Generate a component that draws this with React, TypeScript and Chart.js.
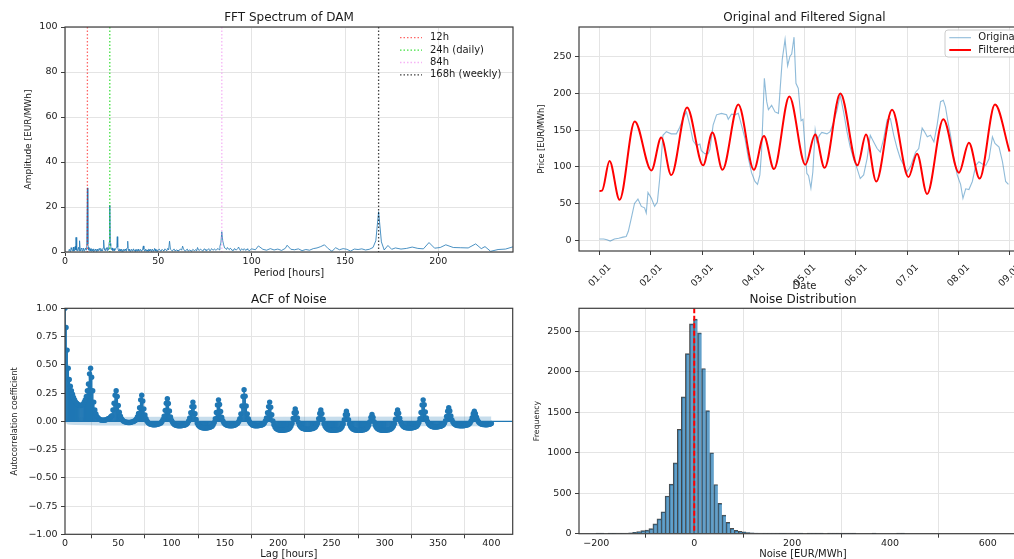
import React, { useEffect, useRef } from "react";
import { Chart, registerables } from "chart.js";

Chart.register(...registerables);

const FONT = '"DejaVu Sans", "Liberation Sans", sans-serif';
const C0 = "#1f77b4";
const SPINE = "#3d3d3d";
const GRID = "#e4e4e4";
const TXT = "#1a1a1a";

// ---------------- FFT spectrum (period [h], amplitude) ----------------
const fftPoints: [number, number][] = [
  [2, 0.3], [2.5, 0.8], [3, 0.4], [3.5, 1.5], [4, 0.5], [4.5, 2.2], [5, 0.6], [5.5, 2.5], [5.9, 6.5], [6.4, 0.8],
  [7, 1.6], [7.5, 0.5], [7.9, 5.0], [8.4, 0.6], [9, 1.4], [9.5, 0.4], [10, 1.2], [10.5, 0.5], [11, 1.8], [11.5, 2.5],
  [12, 28.5], [12.5, 2.2], [13, 0.6], [13.5, 1.3], [14, 0.4], [14.5, 1.1], [15, 0.3], [15.5, 0.9], [16, 0.4], [16.5, 1.0],
  [17, 0.3], [17.5, 0.8], [18, 0.4], [18.5, 1.2], [19, 0.5], [19.5, 1.0], [20, 0.6], [20.4, 1.8], [20.8, 5.3], [21.3, 1.0],
  [22, 1.6], [22.5, 0.6], [23, 2.0], [23.5, 3.0], [24, 20.8], [24.5, 2.8], [25, 1.2], [25.5, 0.7], [26, 1.4], [26.5, 0.5],
  [27, 1.2], [27.5, 2.0], [28, 6.8], [28.5, 1.0], [29, 0.5], [29.5, 1.1], [30, 0.4], [30.5, 0.9], [31, 0.3], [31.5, 1.2],
  [32, 0.5], [32.5, 0.8], [33, 1.5], [33.6, 4.8], [34.1, 0.7], [34.5, 1.0], [35, 0.3], [35.5, 0.9], [36, 0.4], [36.5, 1.1],
  [37, 0.5], [37.5, 0.8], [38, 0.3], [38.5, 1.2], [39, 0.4], [39.5, 0.7], [40, 0.5], [40.5, 1.0], [41, 0.4], [41.5, 1.3],
  [42, 2.7], [42.5, 0.6], [43, 1.0], [43.5, 0.4], [44, 0.9], [44.5, 0.3], [45, 1.1], [45.5, 0.5], [46, 0.8], [46.5, 0.3],
  [47, 1.0], [47.5, 0.4], [48, 1.6], [48.5, 0.5], [49, 0.9], [49.5, 0.3], [50, 1.0],
  [51, 0.6], [52, 1.2], [53, 0.5], [54, 1.0], [55, 1.6], [56, 4.8], [57, 0.8], [58, 1.1], [59, 0.4], [60, 0.9],
  [61, 0.5], [62, 1.3], [63, 2.6], [64, 0.6], [65, 1.0], [66, 0.4], [67, 0.9], [68, 0.5], [69, 0.8], [70, 1.1],
  [71, 2.0], [72, 0.7], [73, 1.0], [74, 0.5], [75, 1.2], [76, 0.6], [77, 1.5], [78, 0.7], [79, 1.1], [80, 1.4],
  [81, 0.8], [82, 1.6], [83, 2.6], [84, 9.0], [85, 3.2], [86, 1.6], [87, 2.0], [88, 1.0], [89, 1.4], [90, 0.8],
  [91, 1.5], [92, 1.0], [93, 2.2], [94, 0.6], [95, 1.2], [96, 1.5], [97, 0.7], [98, 1.1], [99, 0.6], [100, 1.4],
  [102, 1.0], [103.6, 2.7], [106, 1.2], [108, 0.8], [110, 1.5], [112, 0.9], [114, 1.3], [116, 0.7], [118, 1.6], [119, 3.0],
  [121, 1.2], [123, 1.0], [125, 1.4], [127, 0.6], [129, 1.1], [131, 0.8], [133, 1.5], [135, 1.8], [137, 2.4], [139, 3.2],
  [141, 1.5], [143, 0.3], [145, 1.9], [147, 1.0], [149, 1.5], [151, 1.2], [153, 0.4], [155, 1.3], [157, 1.1], [159, 1.4],
  [161, 0.9], [163, 1.2], [165, 2.0], [166.5, 5.0], [168, 17.9], [169.5, 4.5], [171, 0.9], [173, 2.9], [175, 1.2], [177, 1.8],
  [180, 1.3], [183, 1.6], [186, 2.2], [189, 1.6], [192, 1.4], [195, 4.2], [198, 1.7], [201, 2.0], [204, 3.2], [208, 2.0],
  [212, 1.9], [216, 1.8], [220, 3.6], [223, 1.5], [225, 2.4], [228, 0.3], [232, 1.1], [236, 1.3], [240, 2.3], [244, 2.0],
];
// additional densely spaced low-period bins (short periods are packed tightly in the spectrum)
const fftDensePoints: [number, number][] = [
  [2.25, 1.1], [2.75, 0.3], [3.25, 1.9], [3.75, 0.6], [4.25, 1.2], [4.75, 0.4], [5.25, 1.8], [5.7, 1.0], [6.15, 1.9], [6.7, 0.4],
  [7.25, 2.1], [7.7, 1.2], [8.15, 0.9], [8.7, 1.7], [9.25, 0.5], [9.75, 1.6], [10.25, 0.4], [10.75, 1.4], [11.25, 0.9], [11.75, 3.0],
  [12.25, 3.5], [12.75, 0.8], [13.25, 1.8], [13.75, 0.5], [14.25, 1.5], [14.75, 0.6], [15.25, 1.4], [15.75, 0.5], [16.25, 1.3], [16.75, 0.6],
  [17.25, 1.2], [17.75, 0.4], [18.25, 1.5], [18.75, 0.6], [19.25, 1.6], [19.75, 0.5], [20.2, 1.2], [20.6, 2.4], [21.05, 1.6], [21.6, 0.5],
  [22.25, 1.9], [22.75, 1.2], [23.25, 1.0], [23.75, 4.5], [24.25, 3.8], [24.75, 1.1], [25.25, 1.8], [25.75, 0.6], [26.25, 1.5], [26.75, 0.9],
  [27.25, 1.6], [27.75, 2.8], [28.25, 2.2], [28.75, 0.6], [29.25, 1.4], [29.75, 0.5], [30.25, 1.3], [30.75, 0.6], [31.25, 1.0], [31.75, 0.5],
  [32.25, 1.3], [32.75, 0.4], [33.3, 1.8], [33.85, 1.2], [34.3, 0.5], [34.75, 1.3], [35.25, 0.7], [35.75, 1.2], [36.25, 0.5], [36.75, 1.4],
  [37.25, 0.6], [37.75, 1.1], [38.25, 0.7], [38.75, 0.5], [39.25, 1.2], [39.75, 0.4], [40.25, 1.1], [40.75, 0.5], [41.25, 0.9], [41.75, 1.6],
  [42.25, 1.2], [42.75, 0.4], [43.25, 1.3], [43.75, 0.8], [44.25, 0.4], [44.75, 1.2], [45.25, 0.6], [45.75, 1.1], [46.25, 0.5], [46.75, 1.2],
  [47.25, 0.6], [47.75, 0.9], [48.25, 1.2], [48.75, 0.4], [49.25, 1.1], [49.75, 0.6],
  [50.5, 1.3], [51.5, 0.4], [52.5, 0.7], [53.5, 1.4], [54.5, 0.5], [55.5, 0.9], [56.5, 1.2], [57.5, 0.4], [58.5, 1.3], [59.5, 0.9],
  [60.5, 0.5], [61.5, 1.2], [62.5, 0.8], [63.5, 1.4], [64.5, 0.4], [65.5, 1.3], [66.5, 0.8], [67.5, 0.4], [68.5, 1.2], [69.5, 0.6],
  [70.5, 0.5], [71.5, 0.9], [72.5, 1.3], [73.5, 0.6], [74.5, 1.4], [75.5, 0.7], [76.5, 1.0], [77.5, 0.6], [78.5, 1.5], [79.5, 0.8],
  [80.5, 1.0], [81.5, 1.3], [82.5, 1.0], [83.5, 4.0], [84.5, 5.0], [85.5, 1.8], [86.5, 1.1], [87.5, 1.4], [88.5, 1.7], [89.5, 0.7],
  [90.5, 1.3], [91.5, 0.9], [92.5, 1.5], [93.5, 1.2], [94.5, 1.4], [95.5, 0.8], [96.5, 1.0], [97.5, 1.4], [98.5, 0.6], [99.5, 1.2],
];
const fftMarkerPeriods = [12, 24, 84, 168];
const fftMarkerLabels = ["12h", "24h (daily)", "84h", "168h (weekly)"];
const fftMarkerColors = ["rgba(255,0,0,0.6)", "rgba(0,215,0,0.75)", "rgba(238,130,238,0.6)", "rgba(0,0,0,0.75)"];
const fftXTicks = [0, 50, 100, 150, 200];
const fftYTicks = [0, 20, 40, 60, 80, 100];

// ---------------- Original and filtered signal (hour offset, price) ----------------
const dayLabels = ["01.01", "02.01", "03.01", "04.01", "05.01", "06.01", "07.01", "08.01", "09.01"];
const dayTickHours = [0, 24, 48, 72, 96, 120, 144, 168, 192];
const originalPoints: [number, number][] = [
  [0, 1.4], [2, 1.4], [3.5, 0.5], [5, -1.3], [7, 1.4], [9, 2.5], [11, 4], [12.5, 5], [13.5, 12], [14.9, 30],
  [16.4, 50], [18, 56], [19.6, 46], [21.1, 44], [21.9, 37], [22.7, 65], [24.3, 57], [25.8, 46], [27.1, 52], [28.2, 84],
  [29.7, 143], [31.3, 148], [33.6, 145], [36, 145], [37.6, 154], [39.1, 166], [40.7, 175], [42.3, 157], [43.8, 136], [45.4, 129],
  [47, 131], [47.7, 122], [49.3, 118], [50.9, 118], [51.7, 124], [53.2, 157], [54.8, 171], [57.1, 173], [59.5, 171], [60.3, 165],
  [61.8, 172], [63.4, 171], [65, 173], [66.5, 157], [68.1, 139], [69.7, 112], [71.2, 92], [72.8, 80], [74, 76], [75.1, 89],
  [75.9, 121], [77.2, 221], [78.3, 189], [79.1, 178], [80.6, 184], [82.2, 175], [83.8, 173], [84.5, 202], [85.6, 247], [86.9, 274],
  [88.1, 238], [89.2, 251], [90, 254], [91.1, 277], [92, 214], [93.1, 207], [94.4, 163], [95.3, 165], [96.3, 125], [97.1, 91],
  [97.9, 88], [99, 71], [99.9, 93], [101, 150], [101.8, 134], [103, 143], [104.1, 147], [106.5, 145], [108, 148], [109.6, 161],
  [111.2, 177], [112.7, 198], [114.3, 175], [115.9, 148], [117.4, 127], [119, 111], [120.6, 98], [122.1, 84], [123.7, 89], [125.3, 111],
  [126.8, 143], [128.4, 134], [130, 125], [131.5, 120], [133.1, 139], [134.7, 164], [136.2, 166], [137.8, 143], [139.4, 125], [140.9, 111],
  [142.5, 102], [144, 93], [145.6, 100], [148, 120], [149.5, 125], [151.1, 153], [152.2, 148], [153.5, 141], [155, 143], [156.6, 134],
  [158.1, 157], [159.7, 189], [161, 191], [162, 182], [163.2, 161], [164.4, 143], [166, 111], [167.5, 89], [169.1, 76], [170.2, 57],
  [171.5, 70], [173, 69], [174.6, 80], [176.2, 102], [177.7, 107], [179.3, 104], [180.9, 102], [182.4, 111], [184, 141], [185.2, 132],
  [187.1, 127], [188.7, 107], [190.2, 80], [191.5, 76],
];
const filteredPoints: [number, number][] = [
  [0, 67], [1.2, 67.5], [4.7, 108], [9.4, 55], [16.5, 162], [24.3, 95], [28.9, 140], [33.6, 88.7], [41, 181], [48.5, 102],
  [52.9, 147], [57.6, 96], [65, 185], [72.3, 96], [77, 142], [81.7, 97], [88.9, 196], [96.4, 103], [101, 144], [105.4, 98.6],
  [112.8, 200], [120.8, 102], [124.8, 144], [129.6, 80], [137, 178], [144.7, 86], [148.7, 118], [153.4, 63], [161, 165], [168.3, 92],
  [173, 133], [178, 84], [185.2, 185], [192, 121],
];
const priceTicks = [0, 50, 100, 150, 200, 250];

// ---------------- ACF of noise (lag = index) ----------------
const acfValues = [
  1.00, 0.83, 0.63, 0.47, 0.37, 0.31, 0.27, 0.24, 0.21, 0.19, 0.17, 0.16, 0.15, 0.145, 0.14, 0.14, 0.145, 0.15, 0.17, 0.19, 0.22, 0.27, 0.33, 0.42,
  0.47, 0.39, 0.27, 0.17, 0.10, 0.065, 0.04, 0.03, 0.02, 0.015, 0.01, 0.01, 0.01, 0.01, 0.012, 0.015, 0.02, 0.025, 0.03, 0.04, 0.05, 0.10, 0.16, 0.23,
  0.27, 0.22, 0.14, 0.08, 0.046, 0.024, 0.01, 0.001, -0.004, -0.007, -0.009, -0.01, -0.01, -0.01, -0.008, -0.005, -0.003, 0.002, 0.007, 0.02, 0.04, 0.07, 0.12, 0.19,
  0.23, 0.18, 0.11, 0.056, 0.022, 0.001, -0.012, -0.02, -0.025, -0.027, -0.03, -0.03, -0.03, -0.03, -0.028, -0.025, -0.023, -0.018, -0.014, -0.002, 0.016, 0.046, 0.097, 0.16,
  0.20, 0.157, 0.092, 0.039, 0.008, -0.011, -0.023, -0.03, -0.035, -0.038, -0.04, -0.04, -0.04, -0.04, -0.038, -0.036, -0.034, -0.03, -0.025, -0.015, 0.002, 0.03, 0.076, 0.13,
  0.17, 0.129, 0.067, 0.016, -0.014, -0.032, -0.044, -0.051, -0.055, -0.058, -0.06, -0.06, -0.06, -0.06, -0.058, -0.055, -0.053, -0.048, -0.043, -0.03, -0.01, 0.023, 0.078, 0.145,
  0.19, 0.149, 0.087, 0.036, 0.006, -0.012, -0.024, -0.031, -0.035, -0.038, -0.04, -0.04, -0.04, -0.04, -0.037, -0.034, -0.03, -0.024, -0.018, -0.002, 0.024, 0.066, 0.136, 0.22,
  0.28, 0.222, 0.136, 0.066, 0.024, -0.002, -0.018, -0.027, -0.034, -0.037, -0.04, -0.04, -0.04, -0.04, -0.038, -0.036, -0.034, -0.03, -0.025, -0.015, 0.002, 0.03, 0.076, 0.13,
  0.17, 0.125, 0.058, 0.003, -0.03, -0.05, -0.063, -0.07, -0.075, -0.078, -0.08, -0.08, -0.08, -0.08, -0.078, -0.076, -0.074, -0.07, -0.067, -0.057, -0.042, -0.017, 0.025, 0.076,
  0.11, 0.078, 0.029, -0.011, -0.034, -0.048, -0.057, -0.063, -0.066, -0.068, -0.07, -0.07, -0.07, -0.07, -0.068, -0.067, -0.065, -0.062, -0.058, -0.05, -0.036, -0.014, 0.024, 0.069,
  0.10, 0.068, 0.019, -0.021, -0.044, -0.058, -0.067, -0.073, -0.076, -0.078, -0.08, -0.08, -0.08, -0.08, -0.078, -0.077, -0.075, -0.072, -0.068, -0.06, -0.046, -0.024, 0.014, 0.059,
  0.09, 0.059, 0.014, -0.024, -0.046, -0.06, -0.068, -0.073, -0.077, -0.078, -0.08, -0.08, -0.08, -0.08, -0.079, -0.077, -0.076, -0.073, -0.07, -0.063, -0.052, -0.034, -0.003, 0.035,
  0.06, 0.035, -0.003, -0.034, -0.052, -0.063, -0.07, -0.074, -0.077, -0.079, -0.08, -0.08, -0.08, -0.08, -0.078, -0.076, -0.075, -0.071, -0.067, -0.058, -0.044, -0.021, 0.019, 0.068,
  0.10, 0.071, 0.028, -0.007, -0.028, -0.041, -0.049, -0.054, -0.057, -0.058, -0.06, -0.06, -0.06, -0.06, -0.058, -0.055, -0.053, -0.048, -0.043, -0.03, -0.01, 0.023, 0.078, 0.145,
  0.19, 0.147, 0.082, 0.029, -0.002, -0.021, -0.033, -0.04, -0.045, -0.048, -0.05, -0.05, -0.05, -0.05, -0.048, -0.047, -0.045, -0.042, -0.038, -0.03, -0.016, 0.006, 0.044, 0.089,
  0.12, 0.091, 0.048, 0.013, -0.008, -0.021, -0.029, -0.034, -0.037, -0.038, -0.04, -0.04, -0.04, -0.04, -0.039, -0.037, -0.036, -0.033, -0.031, -0.024, -0.014, 0.003, 0.032, 0.067,
  0.09, 0.068, 0.036, 0.01, -0.006, -0.016, -0.022, -0.025, -0.028, -0.029, -0.03, -0.03, -0.03, -0.029, -0.027, -0.024, -0.02,
];
const bandLags = [0, 1, 2, 3, 5, 10, 24, 30, 100, 200, 400];
const bandUpper = [0, 0.015, 0.025, 0.029, 0.031, 0.033, 0.036, 0.038, 0.04, 0.041, 0.043];
const bandLower = [0, -0.015, -0.025, -0.029, -0.031, -0.033, -0.036, -0.038, -0.04, -0.041, -0.043];
const acfXTicks = [0, 50, 100, 150, 200, 250, 300, 350, 400];
const acfYTicks = [-1, -0.75, -0.5, -0.25, 0, 0.25, 0.5, 0.75, 1];

// ---------------- Noise histogram ----------------
const histBinStart = -200.7;
const histBinWidth = 8.3;
const histCounts = [
  1, 1, 0, 1, 1, 2, 3, 6, 10, 16, 25, 37, 45, 62, 121, 183, 271, 465, 612, 875, 1290, 1690, 2224, 2590,
  2650, 2480, 2040, 1520, 1000, 608, 374, 230, 140, 66, 41, 30, 22, 15, 12, 8, 5, 4, 4, 3,
  3, 1, 1, 2, 3, 1, 1, 0, 1, 1, 1, 1, 0, 1, 1, 1, 1, 1, 1, 1, 0, 0, 0, 0, 1, 0, 0, 0, 0, 0, 1, 1,
];
const noiseMean = 0;
const histXTicks = [-200, 0, 200, 400, 600];
const histYTicks = [0, 500, 1000, 1500, 2000, 2500];

// ---------------- layout ----------------
const BOX_A = { left: 0, top: 0, width: 530, height: 285 };
const AREA_A = { left: 65, top: 27, right: 513, bottom: 252 };
const BOX_B = { left: 520, top: 0, width: 530, height: 300 };
const AREA_B = { left: 579, top: 27, right: 1030, bottom: 251 };
const BOX_C = { left: 0, top: 285, width: 530, height: 280 };
const AREA_C = { left: 65, top: 308.3, right: 512.7, bottom: 534.3 };
const BOX_D = { left: 520, top: 285, width: 530, height: 280 };
const AREA_D = { left: 579, top: 308.3, right: 1027, bottom: 533.7 };

const minus = (s: string) => s.replace("-", "\u2212");

function axis(o: any) {
  const lh = o.titleSize * 1.2;
  const tp = Math.max(0, o.titleOffset - lh / 2);
  return {
    type: "linear",
    position: o.isX ? "bottom" : "left",
    min: o.min,
    max: o.max,
    offset: false,
    afterBuildTicks: (ax: any) => {
      ax.ticks = o.ticks.map((v: number) => ({ value: v }));
    },
    afterFit: (ax: any) => {
      if (o.isX) ax.height = o.size;
      else ax.width = o.size;
    },
    grid: {
      color: GRID,
      lineWidth: 1,
      drawTicks: true,
      tickLength: 4,
      tickColor: SPINE,
      tickWidth: 1,
    },
    border: { display: false },
    ticks: {
      autoSkip: false,
      color: TXT,
      font: { family: FONT, size: 9.5 },
      padding: o.pad,
      maxRotation: o.rot || 0,
      minRotation: o.rot || 0,
      labelOffset: o.labelOffset || 0,
      callback: (_v: any, i: number) => o.labels[i],
    },
    title: {
      display: true,
      text: o.title,
      color: TXT,
      font: { family: FONT, size: o.titleSize },
      padding: o.isX ? { top: 0, bottom: tp } : { top: tp, bottom: 0 },
    },
  };
}

function baseOptions(box: any, area: any) {
  return {
    responsive: false,
    maintainAspectRatio: false,
    animation: false,
    devicePixelRatio: 1,
    events: [],
    layout: {
      padding: {
        left: 0,
        top: area.top - box.top,
        right: box.left + box.width - area.right,
        bottom: 0,
      },
    },
    plugins: {
      legend: { display: false },
      tooltip: { enabled: false },
      title: { display: false },
    },
  };
}

function decor(cfg: any) {
  const bx = cfg.box;
  return {
    id: "decor",
    afterDatasetsDraw(chart: any) {
      const { ctx, chartArea: a, scales } = chart;
      ctx.save();
      ctx.beginPath();
      ctx.rect(a.left, a.top, a.right - a.left, a.bottom - a.top);
      ctx.clip();
      for (const v of cfg.vlines || []) {
        const px = scales.x.getPixelForValue(v.x);
        ctx.beginPath();
        ctx.setLineDash(v.dash);
        ctx.strokeStyle = v.color;
        ctx.lineWidth = v.width;
        ctx.moveTo(px, a.top);
        ctx.lineTo(px, a.bottom);
        ctx.stroke();
      }
      ctx.restore();
      // frame (spines)
      ctx.save();
      ctx.strokeStyle = SPINE;
      ctx.lineWidth = 1.2;
      ctx.setLineDash([]);
      ctx.strokeRect(a.left, a.top, a.right - a.left, a.bottom - a.top);
      ctx.restore();
      // title
      ctx.save();
      ctx.font = `12px ${FONT}`;
      ctx.fillStyle = TXT;
      ctx.textAlign = "center";
      ctx.textBaseline = "middle";
      ctx.fillText(cfg.title, (a.left + a.right) / 2, cfg.titleY - bx.top);
      ctx.restore();
      // legend
      const lg = cfg.legend;
      if (lg) {
        ctx.save();
        if (lg.frame) {
          const f = lg.frame;
          const x = f.x - bx.left, y = f.y - bx.top;
          ctx.beginPath();
          ctx.roundRect(x, y, f.w, f.h, 3);
          ctx.fillStyle = "rgba(255,255,255,0.85)";
          ctx.fill();
          ctx.strokeStyle = "#cccccc";
          ctx.lineWidth = 1;
          ctx.stroke();
        }
        ctx.font = `${lg.fontSize}px ${FONT}`;
        ctx.textBaseline = "middle";
        ctx.textAlign = "left";
        lg.items.forEach((it: any, i: number) => {
          const y = lg.y0 + i * lg.dy - bx.top;
          ctx.beginPath();
          ctx.setLineDash(it.dash);
          ctx.strokeStyle = it.color;
          ctx.lineWidth = it.width;
          ctx.moveTo(lg.lineX0 - bx.left, y);
          ctx.lineTo(lg.lineX1 - bx.left, y);
          ctx.stroke();
          ctx.setLineDash([]);
          ctx.fillStyle = TXT;
          ctx.fillText(it.label, lg.textX - bx.left, y);
        });
        ctx.restore();
      }
    },
  };
}

const DOT = [1.5, 2];

function fftConfig() {
  const vl = fftMarkerPeriods.map((p, i) => ({ x: p, color: fftMarkerColors[i], dash: DOT, width: 1.3 }));
  const pts = [...fftPoints, ...fftDensePoints].sort((a, b) => a[0] - b[0]);
  return {
    type: "line",
    data: {
      datasets: [
        {
          data: pts.map(([x, y]) => ({ x, y })),
          borderColor: "rgba(31,119,180,0.8)",
          borderWidth: 1,
          pointRadius: 0,
          tension: 0,
        },
      ],
    },
    options: {
      ...baseOptions(BOX_A, AREA_A),
      scales: {
        x: axis({ isX: true, min: 0, max: 240, ticks: fftXTicks, labels: fftXTicks.map(String), size: BOX_A.top + BOX_A.height - AREA_A.bottom, pad: 0, title: "Period [hours]", titleSize: 10, titleOffset: 11.7 }),
        y: axis({ isX: false, min: 0, max: 100, ticks: fftYTicks, labels: fftYTicks.map(String), size: AREA_A.left - BOX_A.left, pad: 3.5, title: "Amplitude [EUR/MWh]", titleSize: 9, titleOffset: 28.3 }),
      },
    },
    plugins: [
      decor({
        box: BOX_A,
        title: "FFT Spectrum of DAM",
        titleY: 18.3,
        vlines: vl,
        legend: {
          items: fftMarkerLabels.map((l, i) => ({ label: l, color: fftMarkerColors[i], dash: DOT, width: 1.3 })),
          lineX0: 400, lineX1: 422, textX: 430, y0: 37.7, dy: 12.4, fontSize: 10,
        },
      }),
    ],
  };
}

function signalConfig() {
  return {
    type: "line",
    data: {
      datasets: [
        {
          data: filteredPoints.map(([x, y]) => ({ x, y })),
          borderColor: "#ff0000",
          borderWidth: 2,
          pointRadius: 0,
          cubicInterpolationMode: "monotone",
        },
        {
          data: originalPoints.map(([x, y]) => ({ x, y })),
          borderColor: "rgba(31,119,180,0.5)",
          borderWidth: 1.1,
          pointRadius: 0,
          tension: 0,
        },
      ],
    },
    options: {
      ...baseOptions(BOX_B, AREA_B),
      scales: {
        x: axis({ isX: true, min: -9.6, max: 201.6, ticks: dayTickHours, labels: dayLabels, size: BOX_B.top + BOX_B.height - AREA_B.bottom, pad: 7, rot: 45, labelOffset: 10, title: "Date", titleSize: 10, titleOffset: 13.5 }),
        y: axis({ isX: false, min: -14.9, max: 290.9, ticks: priceTicks, labels: priceTicks.map(String), size: AREA_B.left - BOX_B.left, pad: 3.5, title: "Price [EUR/MWh]", titleSize: 8.2, titleOffset: 21.7 }),
      },
    },
    plugins: [
      decor({
        box: BOX_B,
        title: "Original and Filtered Signal",
        titleY: 18.3,
        legend: {
          frame: { x: 945, y: 30, w: 80, h: 27 },
          items: [
            { label: "Original", color: "rgba(31,119,180,0.5)", dash: [], width: 1.1 },
            { label: "Filtered", color: "#ff0000", dash: [], width: 2 },
          ],
          lineX0: 949.3, lineX1: 971, textX: 978.3, y0: 37.7, dy: 12.3, fontSize: 10,
        },
      }),
    ],
  };
}

function acfConfig() {
  const pts = acfValues.map((v, i) => ({ x: i, y: v }));
  return {
    type: "line",
    data: {
      datasets: [
        {
          type: "scatter",
          data: pts,
          showLine: false,
          pointRadius: 2.7,
          pointBackgroundColor: C0,
          pointBorderWidth: 0,
          clip: 0,
        },
        {
          type: "bar",
          data: pts,
          backgroundColor: C0,
          barThickness: 1,
          borderWidth: 0,
        },
        {
          type: "line",
          data: [{ x: 0, y: 0 }, { x: 420, y: 0 }],
          borderColor: C0,
          borderWidth: 1.2,
          pointRadius: 0,
        },
        {
          type: "line",
          data: bandLags.map((l, i) => ({ x: l, y: bandUpper[i] })),
          borderWidth: 0,
          pointRadius: 0,
          fill: "+1",
          backgroundColor: "rgba(31,119,180,0.25)",
        },
        {
          type: "line",
          data: bandLags.map((l, i) => ({ x: l, y: bandLower[i] })),
          borderWidth: 0,
          pointRadius: 0,
          fill: false,
        },
      ],
    },
    options: {
      ...baseOptions(BOX_C, AREA_C),
      scales: {
        x: axis({ isX: true, min: 0, max: 420, ticks: acfXTicks, labels: acfXTicks.map(String), size: BOX_C.top + BOX_C.height - AREA_C.bottom, pad: 0, title: "Lag [hours]", titleSize: 10, titleOffset: 10.7 }),
        y: axis({ isX: false, min: -1, max: 1, ticks: acfYTicks, labels: acfYTicks.map((v) => minus(v.toFixed(2))), size: AREA_C.left - BOX_C.left, pad: 3.5, title: "Autocorrelation coefficient", titleSize: 8.2, titleOffset: 15 }),
      },
    },
    plugins: [decor({ box: BOX_C, title: "ACF of Noise", titleY: 300 })],
  };
}

function histConfig() {
  const data = histCounts.map((c, i) => ({ x: histBinStart + (i + 0.5) * histBinWidth, y: c }));
  return {
    type: "bar",
    data: {
      datasets: [
        {
          data,
          backgroundColor: "rgba(31,119,180,0.7)",
          borderColor: "rgba(0,0,0,0.7)",
          borderWidth: { top: 1, left: 1, right: 0, bottom: 0 },
          borderSkipped: false,
          barPercentage: 1,
          categoryPercentage: 1,
        },
      ],
    },
    options: {
      ...baseOptions(BOX_D, AREA_D),
      scales: {
        x: axis({ isX: true, min: -235.5, max: 680, ticks: histXTicks, labels: histXTicks.map((v) => minus(String(v))), size: BOX_D.top + BOX_D.height - AREA_D.bottom, pad: 0, title: "Noise [EUR/MWh]", titleSize: 10, titleOffset: 11 }),
        y: axis({ isX: false, min: 0, max: 2783, ticks: histYTicks, labels: histYTicks.map(String), size: AREA_D.left - BOX_D.left, pad: 3.5, title: "Frequency", titleSize: 7.8, titleOffset: 16.7 }),
      },
    },
    plugins: [
      decor({
        box: BOX_D,
        title: "Noise Distribution",
        titleY: 300,
        vlines: [{ x: noiseMean, color: "#ff0000", dash: [5, 2.5], width: 2 }],
      }),
    ],
  };
}

function Panel({ box, make }: { box: any; make: () => any }) {
  const ref = useRef<HTMLCanvasElement>(null);
  useEffect(() => {
    const chart = new Chart(ref.current as HTMLCanvasElement, make() as any);
    return () => chart.destroy();
  }, []);
  return (
    <canvas
      ref={ref}
      width={box.width}
      height={box.height}
      style={{ position: "absolute", left: box.left, top: box.top, width: box.width, height: box.height }}
    />
  );
}

export default function App() {
  useEffect(() => {
    document.body.style.margin = "0";
    document.body.style.background = "#ffffff";
    document.body.style.overflow = "hidden";
  }, []);
  return (
    <div style={{ position: "relative", width: 1014, height: 559, overflow: "hidden", background: "#ffffff" }}>
      <Panel box={BOX_A} make={fftConfig} />
      <Panel box={BOX_B} make={signalConfig} />
      <Panel box={BOX_C} make={acfConfig} />
      <Panel box={BOX_D} make={histConfig} />
    </div>
  );
}
